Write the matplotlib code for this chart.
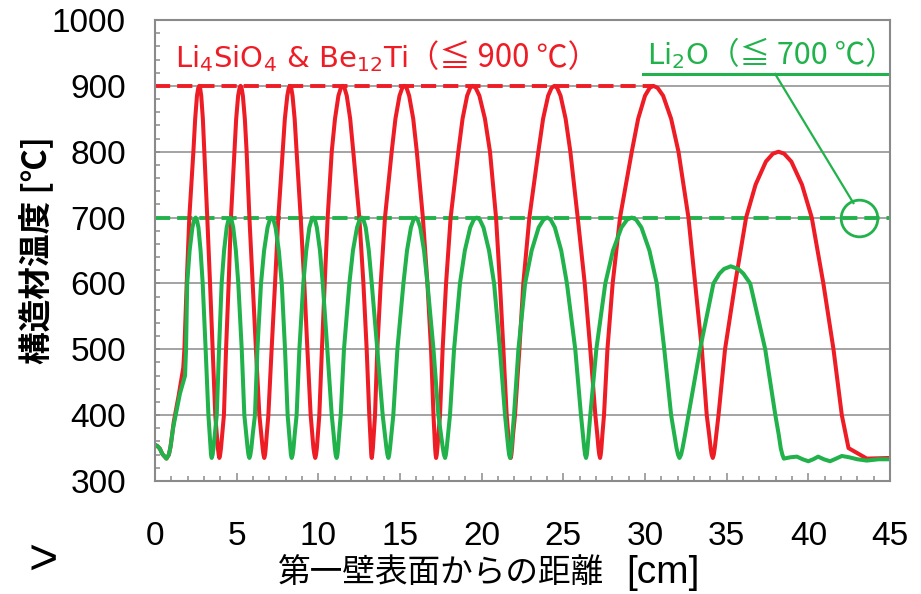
import matplotlib
matplotlib.use("Agg")
import matplotlib.pyplot as plt
from matplotlib.ticker import MultipleLocator

# distance from first wall surface [cm] vs structural material temperature [C]
# Li4SiO4 & Be12Ti case (red)
red_x = [0, 0.15, 0.3, 0.45, 0.7, 0.85, 0.95, 1.15, 1.45, 1.73,
         1.80, 1.94, 2.10, 2.35, 2.46, 2.57, 2.65, 2.71, 2.76, 2.83, 2.93, 3.02, 3.20, 3.37, 3.53, 3.69,
         3.79, 3.85, 3.90, 3.94, 3.99, 4.04, 4.11,
         4.22, 4.35, 4.51, 4.65, 4.86, 4.97, 5.09, 5.18, 5.24, 5.30, 5.38, 5.50, 5.61, 5.78, 5.98, 6.18, 6.39,
         6.51, 6.59, 6.64, 6.69, 6.74, 6.78, 6.84,
         6.94, 7.14, 7.35, 7.55, 7.82, 7.95, 8.10, 8.19, 8.27, 8.34, 8.42, 8.55, 8.67, 8.92, 9.14, 9.33, 9.53,
         9.63, 9.70, 9.76, 9.81, 9.86, 9.91, 9.97,
         10.06, 10.22, 10.39, 10.57, 10.82, 11.02, 11.23, 11.38, 11.49, 11.60, 11.74, 11.95, 12.14, 12.51, 12.76, 12.96, 13.12,
         13.18, 13.22, 13.24, 13.27, 13.30, 13.34, 13.39,
         13.47, 13.61, 13.82, 14.08, 14.49, 14.72, 14.97, 15.14, 15.27, 15.40, 15.56, 15.81, 16.03, 16.40, 16.68, 16.90, 17.05,
         17.11, 17.15, 17.18, 17.21, 17.25, 17.29, 17.35,
         17.45, 17.61, 17.82, 18.10, 18.57, 18.83, 19.11, 19.30, 19.45, 19.63, 19.86, 20.20, 20.51, 20.88, 21.12, 21.33, 21.53,
         21.63, 21.69, 21.73, 21.78, 21.82, 21.86, 21.92,
         22.04, 22.31, 22.55, 22.92, 23.47, 23.76, 24.07, 24.28, 24.45, 24.62, 24.83, 25.14, 25.43, 25.88, 26.31, 26.65, 26.96,
         27.08, 27.15, 27.20, 27.25, 27.29, 27.33, 27.39,
         27.49, 27.70, 28.02, 28.47, 29.19, 29.58, 30.00, 30.29, 30.51, 30.77, 31.11, 31.60, 32.05, 32.66, 33.07, 33.48, 33.78,
         33.93, 34.02, 34.08, 34.15, 34.21, 34.27, 34.36,
         34.50, 34.90, 35.52, 36.19, 36.77, 37.40, 37.83, 38.17, 38.52, 38.96, 39.61, 40.21, 40.92, 41.54, 42.05, 42.46, 43.58, 45.0]
red_t = [355, 353, 349, 341, 334, 340, 352, 390, 430, 472,
         500, 600, 700, 800, 850, 885, 897, 900, 897, 885, 850, 800, 700, 600, 500, 400,
         370, 350, 340, 335, 340, 350, 370,
         400, 500, 600, 700, 800, 850, 885, 897, 900, 897, 885, 850, 800, 700, 600, 500, 400,
         370, 350, 340, 335, 340, 350, 370,
         400, 500, 600, 700, 800, 850, 885, 897, 900, 897, 885, 850, 800, 700, 600, 500, 400,
         370, 350, 340, 335, 340, 350, 370,
         400, 500, 600, 700, 800, 850, 885, 897, 900, 897, 885, 850, 800, 700, 600, 500, 400,
         370, 350, 340, 335, 340, 350, 370,
         400, 500, 600, 700, 800, 850, 885, 897, 900, 897, 885, 850, 800, 700, 600, 500, 400,
         370, 350, 340, 335, 340, 350, 370,
         400, 500, 600, 700, 800, 850, 885, 897, 900, 897, 885, 850, 800, 700, 600, 500, 400,
         370, 350, 340, 335, 340, 350, 370,
         400, 500, 600, 700, 800, 850, 885, 897, 900, 897, 885, 850, 800, 700, 600, 500, 400,
         370, 350, 340, 335, 340, 350, 370,
         400, 500, 600, 700, 800, 850, 885, 897, 900, 897, 885, 850, 800, 700, 600, 500, 400,
         370, 350, 340, 335, 340, 350, 370,
         400, 500, 600, 700, 750, 785, 797, 800, 797, 785, 750, 700, 600, 500, 400, 350, 334, 335]

# Li2O case (green)
green_x = [0, 0.15, 0.3, 0.45, 0.7, 0.85, 0.95, 1.12, 1.53, 1.84,
           1.90, 1.97, 2.12, 2.29, 2.40, 2.49, 2.56, 2.66, 2.79, 2.92, 3.10, 3.27,
           3.35, 3.40, 3.43, 3.47, 3.53, 3.58, 3.66,
           3.78, 3.92, 4.08, 4.23, 4.39, 4.50, 4.59, 4.68, 4.79, 4.95, 5.10, 5.31, 5.47,
           5.59, 5.67, 5.72, 5.78, 5.84, 5.90, 5.98,
           6.12, 6.27, 6.49, 6.68, 6.89, 7.03, 7.14, 7.25, 7.38, 7.58, 7.76, 7.96, 8.12,
           8.22, 8.28, 8.32, 8.37, 8.43, 8.48, 8.55,
           8.67, 8.84, 9.08, 9.26, 9.45, 9.59, 9.69, 9.79, 9.91, 10.10, 10.27, 10.55, 10.82,
           10.94, 11.01, 11.06, 11.12, 11.17, 11.21, 11.27,
           11.37, 11.57, 11.90, 12.12, 12.37, 12.53, 12.66, 12.76, 12.90, 13.09, 13.27, 13.61, 13.94,
           14.08, 14.17, 14.23, 14.29, 14.34, 14.39, 14.47,
           14.59, 14.84, 15.21, 15.43, 15.67, 15.83, 15.96, 16.08, 16.24, 16.47, 16.68, 17.05, 17.35,
           17.51, 17.62, 17.69, 17.76, 17.81, 17.86, 17.94,
           18.06, 18.31, 18.67, 18.97, 19.30, 19.52, 19.70, 19.88, 20.11, 20.45, 20.76, 21.12, 21.43,
           21.55, 21.63, 21.68, 21.74, 21.78, 21.82, 21.88,
           21.98, 22.25, 22.66, 23.06, 23.49, 23.79, 24.02, 24.22, 24.48, 24.87, 25.22, 25.73, 26.08,
           26.20, 26.28, 26.33, 26.39, 26.44, 26.48, 26.55,
           26.65, 27.02, 27.57, 28.04, 28.56, 28.91, 29.19, 29.45, 29.78, 30.27, 30.72, 31.18, 31.60,
           31.80, 31.93, 32.02, 32.11, 32.21, 32.30, 32.45,
           32.66, 33.37, 34.19, 34.56, 34.84, 35.25, 35.71, 36.02, 36.44, 37.36, 37.98, 38.19, 38.31, 38.41, 38.50,
           38.9, 39.3, 39.65, 40.0, 40.3, 40.6, 40.95, 41.33, 41.7, 42.05, 42.5, 43.0, 43.58, 44.3, 45.0]
green_t = [355, 353, 349, 341, 334, 340, 352, 382, 433, 460,
           500, 600, 650, 685, 697, 700, 697, 685, 650, 600, 500, 400,
           370, 350, 340, 335, 340, 350, 370,
           400, 500, 600, 650, 685, 697, 700, 697, 685, 650, 600, 500, 400,
           370, 350, 340, 335, 340, 350, 370,
           400, 500, 600, 650, 685, 697, 700, 697, 685, 650, 600, 500, 400,
           370, 350, 340, 335, 340, 350, 370,
           400, 500, 600, 650, 685, 697, 700, 697, 685, 650, 600, 500, 400,
           370, 350, 340, 335, 340, 350, 370,
           400, 500, 600, 650, 685, 697, 700, 697, 685, 650, 600, 500, 400,
           370, 350, 340, 335, 340, 350, 370,
           400, 500, 600, 650, 685, 697, 700, 697, 685, 650, 600, 500, 400,
           370, 350, 340, 335, 340, 350, 370,
           400, 500, 600, 650, 685, 697, 700, 697, 685, 650, 600, 500, 400,
           370, 350, 340, 335, 340, 350, 370,
           400, 500, 600, 650, 685, 697, 700, 697, 685, 650, 600, 500, 400,
           370, 350, 340, 335, 340, 350, 370,
           400, 500, 600, 650, 685, 697, 700, 697, 685, 650, 600, 500, 400,
           370, 350, 340, 335, 340, 350, 370,
           400, 500, 600, 615, 622, 626, 622, 615, 600, 500, 400, 370, 350, 340, 334,
           336, 337, 333, 330, 333, 337, 333, 330, 334, 338, 336, 333, 331, 333, 333]

red_limit = 900
green_limit = 700
red_limit_end = 30.5

red = '#ee1c25'
green = '#22b24c'
gray = '#8a8a8a'

fig = plt.figure(figsize=(9.21, 5.94), dpi=100)
ax = fig.add_axes([155 / 921, 1 - 481 / 594, 735 / 921, 461 / 594])

ax.grid(axis='y', color=gray, linewidth=1.1)
ax.set_axisbelow(True)

# limit lines
ax.plot([0, red_limit_end], [red_limit, red_limit], color=red, linewidth=2.8, dashes=(3.9, 1.8))
ax.plot([0, 45], [green_limit, green_limit], color=green, linewidth=2.8, dashes=(3.9, 1.8))

ax.plot(red_x, red_t, color=red, linewidth=2.9, solid_joinstyle='round')
ax.plot(green_x, green_t, color=green, linewidth=2.9, solid_joinstyle='round')

# Li2O callout: underline, leader line, circle
ax.plot([29.86, 44.82], [918, 918], color=green, linewidth=2.2, clip_on=False)
ax.plot([37.97, 42.76], [918, 722], color=green, linewidth=1.6)
ax.plot([43.13], [700], marker='o', markersize=26.4, markerfacecolor='none',
        markeredgecolor=green, markeredgewidth=2.0)

ax.set_xlim(0, 45)
ax.set_ylim(300, 1000)
ax.xaxis.set_major_locator(MultipleLocator(5))
ax.xaxis.set_minor_locator(MultipleLocator(1))
ax.yaxis.set_major_locator(MultipleLocator(100))
ax.yaxis.set_minor_locator(MultipleLocator(20))

for s in ax.spines.values():
    s.set_color(gray)
    s.set_linewidth(1.5)

ax.tick_params(axis='both', which='both', direction='in', color=gray, width=1.1,
               labelsize=24, top=False, right=False)
ax.tick_params(axis='x', which='major', length=6, pad=29)
ax.tick_params(axis='x', which='minor', length=3.8)
ax.tick_params(axis='y', which='both', length=3.8, pad=21)
for lab in ax.get_xticklabels() + ax.get_yticklabels():
    lab.set_fontfamily('Liberation Sans')

# legend-like labels: formula part + bracket part placed right after it
t1 = fig.text(175 / 921, 1 - 67 / 594, 'Li$_4$SiO$_4$ & Be$_{12}$Ti', color=red,
              fontsize=21, family='DejaVu Sans', ha='left', va='baseline')
t2 = fig.text(647 / 921, 1 - 64 / 594, 'Li$_2$O', color=green,
              fontsize=21, family='DejaVu Sans', ha='left', va='baseline')
xl = fig.text(441 / 921, 1 - 573 / 594, '第一壁表面からの距離', fontsize=23.5,
              family=['Noto Sans CJK JP', 'DejaVu Sans'], ha='center', va='center')
fig.canvas.draw()
r = fig.canvas.get_renderer()
e1 = t1.get_window_extent(r)
e2 = t2.get_window_extent(r)
ex = xl.get_window_extent(r)
fig.text(e1.x1 / 921, 1 - 67 / 594, '（≦ 900 ℃）', color=red, fontsize=22.5,
         family=['Noto Sans CJK JP', 'DejaVu Sans'], ha='left', va='baseline')
fig.text(e2.x1 / 921, 1 - 64 / 594, '（≦ 700 ℃）', color=green, fontsize=22,
         family=['Noto Sans CJK JP', 'DejaVu Sans'], ha='left', va='baseline')
fig.text((ex.x1 + 22) / 921, 1 - 573 / 594, '[cm]', fontsize=28, family='Liberation Sans',
         ha='left', va='center')

fig.text(37 / 921, 1 - 250 / 594, '構造材温度 [℃]', rotation=90, fontsize=23.5,
         family=['Noto Sans CJK JP', 'DejaVu Sans'], fontweight='bold', ha='center', va='center')
fig.text(43 / 921, 1 - 561 / 594, '>', rotation=0, fontsize=36, family='Liberation Sans',
         ha='center', va='center')

fig.savefig('out.png', dpi=100)
